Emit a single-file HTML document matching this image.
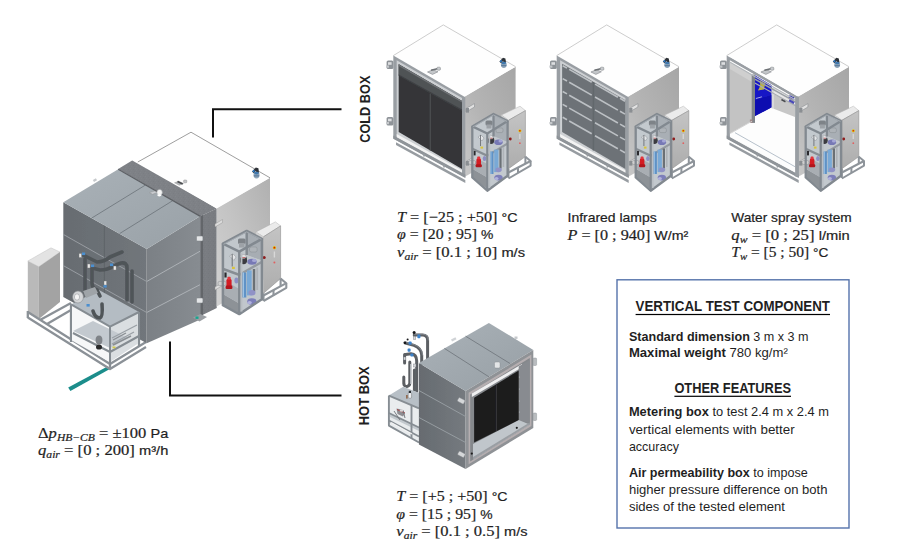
<!DOCTYPE html>
<html lang="en">
<head>
<meta charset="utf-8">
<title>Hot box / Cold box test facility</title>
<style>
  html, body { margin: 0; padding: 0; background: #ffffff; }
  body { width: 900px; height: 550px; overflow: hidden; font-family: "Liberation Sans", sans-serif; }
  svg { display: block; }
  .sans { font-family: "Liberation Sans", sans-serif; }
  .serif { font-family: "Liberation Serif", serif; }
  .it { font-family: "Liberation Serif", serif; font-style: italic; }
  .b { font-family: "Liberation Sans", sans-serif; font-weight: bold; }
  text { fill: #1f1f1f; }
</style>
</head>
<body>
<svg width="900" height="550" viewBox="0 0 900 550">
  <defs>
    <filter id="soft" x="-5%" y="-5%" width="110%" height="110%">
      <feGaussianBlur stdDeviation="0.55"/>
    </filter>
  </defs>
  <rect x="0" y="0" width="900" height="550" fill="#ffffff"/>

  <!-- ============ CONNECTOR LINES ============ -->
  <g id="connectors" fill="none" stroke="#111111" stroke-width="2" stroke-linejoin="miter">
    <polyline points="213,137.5 213,109.3 341.5,109.3"/>
    <polyline points="170,341.5 170,395.5 341.5,395.5"/>
  </g>

  <!-- ============ COLD BOX RENDERINGS ============ -->
  <defs>
    <linearGradient id="cbRight" x1="0" y1="1" x2="1" y2="0">
      <stop offset="0" stop-color="#c8c8c8"/>
      <stop offset="0.45" stop-color="#b4b4b4"/>
      <stop offset="1" stop-color="#a6a6a6"/>
    </linearGradient>
    <linearGradient id="cabFront" x1="0" y1="0" x2="0" y2="1">
      <stop offset="0" stop-color="#c4c4c4"/>
      <stop offset="1" stop-color="#adadad"/>
    </linearGradient>

    <!-- body of cold box: top face, right face, front frame (coords = box 1 absolute) -->
    <g id="cbBody">
      <!-- right face -->
      <polygon points="464.4,96.7 515.6,66.7 515.6,148 464.4,177" fill="url(#cbRight)"/>
      <!-- top face -->
      <polygon points="443.3,24.9 515.6,66.7 464.4,96.7 393.3,55.6" fill="#fefefe"/>
      <polyline points="393.3,55.6 443.3,24.9 515.6,66.7" fill="none" stroke="#b8b8b8" stroke-width="0.7"/>
      <!-- front frame outer -->
      <polygon points="393.3,55.6 465.3,97.2 465.3,177.5 393.3,138.5" fill="#999ea3"/>
      <polygon points="396.7,60.3 462,98 462,172 396.7,135.8" fill="#cdd0d3"/>
      <polygon points="396.7,134 462,170.2 462,173.6 396.7,137.6" fill="#f3f3f3"/>
      <polygon points="393.3,135.6 465.3,174.6 465.3,178 393.3,138.8" fill="#8f9499"/>
      <!-- base rails under front -->
      <polygon points="396,142.2 465.3,180 465.3,183 396,145" fill="#979ca1"/>
      <path d="M424,153.5 l0,3 M444,164.5 l0,3" stroke="#979ca1" stroke-width="1.6"/>
      <!-- hinges left -->
      <g>
        <rect x="386.6" y="60.5" width="6.8" height="8.6" rx="1.6" fill="#8e9398"/>
        <rect x="388" y="62.2" width="3.6" height="2.6" fill="#dcdee0"/>
        <rect x="386" y="65.5" width="3" height="2.2" fill="#c4c7ca"/>
        <rect x="386.6" y="117" width="6.8" height="8.6" rx="1.6" fill="#8e9398"/>
        <rect x="388" y="118.7" width="3.6" height="2.6" fill="#dcdee0"/>
        <rect x="386" y="122" width="3" height="2.2" fill="#c4c7ca"/>
      </g>
      <!-- bracket on right face -->
      <polygon points="466,108.5 474.5,103.6 474.5,107 466,112" fill="#e1e1e1" stroke="#7f8387" stroke-width="0.5"/>
      <rect x="466" y="108" width="3" height="4.6" fill="#8a8e92"/>
      <polygon points="466,161.5 474.5,156.6 474.5,160 466,165" fill="#e1e1e1" stroke="#7f8387" stroke-width="0.5"/>
      <rect x="466" y="161" width="3" height="4.6" fill="#8a8e92"/>
      <!-- handle on top -->
      <path d="M427.5,72 l5.5,-2.3 l5,2.1 l-5.5,2.6 z" fill="#c3c6c9" stroke="#83878b" stroke-width="0.6"/>
      <path d="M431,70.3 l6.3,-1.6" stroke="#6d7175" stroke-width="1.5" fill="none"/>
      <rect x="437" y="67.2" width="3.4" height="3" rx="0.8" fill="#c9cccf" stroke="#777b7f" stroke-width="0.5"/>
      <!-- blue sensor on top -->
      <ellipse cx="503.8" cy="64.6" rx="2.9" ry="3.4" fill="#8ea4b8"/>
      <rect x="501.2" y="65" width="5.2" height="1.2" fill="#5f7f9f"/>
      <path d="M499.4,61.6 l3.6,-3.8 l2.4,0.6 l0.6,4 l-2.4,0.4 l-0.4,-2 l-2.2,2.4 z" fill="#2f3338"/>
      <rect x="500" y="60.4" width="2" height="1.6" fill="#2d7fd0" transform="rotate(-45 501 61.2)"/>
      <ellipse cx="503.8" cy="63" rx="2.2" ry="1.2" fill="#3f79b0"/>
    </g>

    <!-- pump skid frame + control cabinet (coords = box 1 absolute) -->
    <g id="cbSkid">
      <!-- control cabinet -->
      <polygon points="501.4,115 520,106.2 525.4,110.6 508.5,120.3" fill="#ebebeb" stroke="#b5b5b5" stroke-width="0.5"/>
      <polygon points="508.5,120.3 525.4,110.6 525.4,156.6 508.5,168.7" fill="url(#cabFront)" stroke="#8f8f8f" stroke-width="0.6"/>
      <polygon points="501.4,115 508.5,120.3 508.5,168 501.4,163" fill="#d2d2d2"/>
      <circle cx="519.9" cy="130.8" r="1.5" fill="#e6c800"/>
      <circle cx="519.9" cy="130.8" r="0.8" fill="#cc1515"/>
      <circle cx="519.9" cy="143.2" r="0.9" fill="#e06060"/>
      <rect x="519.2" y="134" width="1.3" height="5" fill="#d8d8d8"/>
      <circle cx="510.3" cy="139" r="1.4" fill="#8e1a1a"/>
      <!-- cabinet base frame -->
      <g fill="none" stroke="#8e949a" stroke-width="2" stroke-linejoin="round">
        <path d="M508.5,168.7 L508.5,178 M525.4,156.6 L525.4,164"/>
        <path d="M508.5,172.5 L530.6,161 L525.4,156.8"/>
        <path d="M508.5,178.5 L530.6,165.6 L530.6,161"/>
        <path d="M518,167.6 L518,173"/>
      </g>
      <!-- skid interior backdrop -->
      <polygon points="472.3,126.4 493.5,114 507.6,121 507.6,175.8 487.3,190.7 472.3,177.5" fill="#c3c9ce"/>
      <polygon points="493.5,114 507.6,121 507.6,142 493.5,136" fill="#a9afb5"/>
      <!-- shelf -->
      <polygon points="472.3,147.6 493.5,136.5 507.6,142.3 487.3,154.6" fill="#c2c8cd"/>
      <polygon points="472.3,147.6 487.3,154.6 487.3,157 472.3,150" fill="#878d93"/>
      <polygon points="487.3,154.6 507.6,142.3 507.6,144.7 487.3,157" fill="#949aa0"/>
      <!-- equipment on top level -->
      <rect x="485.5" y="120.5" width="7" height="5" rx="1.5" fill="#7e8388"/>
      <rect x="486.5" y="124.5" width="5" height="4" fill="#9da2a7"/>
      <rect x="496" y="128" width="7" height="4.6" rx="1.6" fill="#aeb3b8" stroke="#7e8388" stroke-width="0.4"/>
      <path d="M478,137 l3,-2 l3,3 l-2,3 z" fill="#e4e6e8" stroke="#777b80" stroke-width="0.4"/>
      <path d="M480.5,135 L480.5,146" stroke="#6d7176" stroke-width="0.9"/>
      <ellipse cx="491" cy="140.2" rx="3.3" ry="3.8" fill="#3a3b3f"/>
      <ellipse cx="490.6" cy="137.2" rx="2.7" ry="1.9" fill="#e2e2e4" stroke="#8d8d90" stroke-width="0.4"/>
      <path d="M488.5,138.2 h4" stroke="#b33" stroke-width="0.6"/>
      <ellipse cx="498.5" cy="142.3" rx="4.2" ry="2.8" fill="#7779b5"/>
      <ellipse cx="500.5" cy="141" rx="2" ry="1.6" fill="#a5a7d6"/>
      <rect x="480.5" y="146.6" width="2.6" height="2" fill="#d9c43c"/>
      <!-- lower level -->
      <polygon points="472.3,168.7 487.3,177.5 487.3,189 472.3,177.5" fill="#8d9297"/>
      <polygon points="472.3,163.5 480,160 487.3,164 487.3,177.5 472.3,168.7" fill="#a9aeb3"/>
      <rect x="473.6" y="151" width="2" height="4.4" fill="#2a2b2e"/>
      <rect x="489.2" y="151.5" width="4.3" height="22.5" fill="#5f92c6"/>
      <rect x="494.2" y="149.6" width="4.3" height="22.5" fill="#79a9d6"/>
      <rect x="490.4" y="151.5" width="1" height="22.5" fill="#9cc3e6"/>
      <rect x="499.4" y="148.5" width="2.2" height="20" fill="#6b7075"/>
      <rect x="502.6" y="147" width="1.6" height="20" fill="#aeb3b8"/>
      <ellipse cx="498.5" cy="177.6" rx="4.2" ry="2.9" fill="#7d7fba"/>
      <ellipse cx="496.5" cy="178.6" rx="2" ry="1.5" fill="#b1b3dd"/>
      <ellipse cx="498.6" cy="169.8" rx="3.2" ry="2.4" fill="#9092c6"/>
      <ellipse cx="484.5" cy="158.5" rx="1.8" ry="2.6" fill="#8c8ec2"/>
      <rect x="476.4" y="158.3" width="4.6" height="8.6" rx="1.6" fill="#d41c24"/>
      <rect x="477.2" y="156.6" width="3" height="2.6" rx="0.8" fill="#e2353c"/>
      <rect x="475.6" y="164.3" width="6.2" height="3" rx="1" fill="#b0161d"/>
      <rect x="468.6" y="160.6" width="7" height="3.8" rx="1.4" fill="#d0d0d0" stroke="#85898d" stroke-width="0.5"/>
      <!-- frame posts -->
      <g fill="none" stroke="#828990" stroke-width="2.3" stroke-linejoin="round">
        <path d="M472.3,126.4 L472.3,177.5 L487.3,190.7 L507.6,175.8 L507.6,121"/>
        <path d="M487.3,133.5 L487.3,190.7"/>
        <path d="M472.3,126.4 L493.5,114 L507.6,121 L487.3,133.5 Z"/>
        <path d="M493.5,114 L493.5,136.5"/>
      </g>
      <path d="M489.4,134.5 L489.4,188" stroke="#b9bec3" stroke-width="1.6" fill="none"/>
      <path d="M472.8,127 L493.5,115 L507,121.4" fill="none" stroke="#b3b9be" stroke-width="0.7"/>
    </g>
  </defs>

  <g id="coldboxes" filter="url(#soft)">
    <!-- box 1: dark roller shutter -->
    <g>
      <use href="#cbBody"/>
      <polygon points="398.7,64.3 462,100.9 462,168.9 398.7,132" fill="#343538"/>
      <polygon points="398.7,64.3 462,100.9 462,110.5 398.7,75.3" fill="#4f5255"/>
      <polygon points="398.7,64.3 462,100.9 462,102.6 398.7,66" fill="#6f7376"/>
      <polygon points="398.7,74.4 462,109.6 462,111 398.7,75.8" fill="#3e4043"/>
      <line x1="430.3" y1="93.5" x2="430.3" y2="150.5" stroke="#4b4d50" stroke-width="1.3"/>
      <use href="#cbSkid"/>
    </g>
    <!-- box 2: infrared lamps -->
    <g transform="translate(163.4,0)">
      <use href="#cbBody"/>
      <polygon points="398.7,63.7 462,100.3 462,168.9 398.7,132" fill="#6d7277"/>
      <g stroke="#bcc0c4" stroke-width="1.6" fill="none">
        <path d="M399.3,65.7 L403.6,68.1 M405.8,69.4 L428.3,82.2 M431.6,84.1 L454.5,97.2 M456.6,98.3 L461.6,101.2"/>
        <path d="M399.3,78.6 L403.6,81.0 M405.8,82.3 L428.3,95.1 M431.6,97.0 L454.5,110.1 M456.6,111.2 L461.6,114.1"/>
        <path d="M399.3,91.5 L403.6,93.9 M405.8,95.2 L428.3,108.0 M431.6,109.9 L454.5,123.0 M456.6,124.1 L461.6,127.0"/>
        <path d="M399.3,104.4 L403.6,106.8 M405.8,108.1 L428.3,120.9 M431.6,122.8 L454.5,135.9 M456.6,137.1 L461.6,139.9"/>
        <path d="M399.3,117.3 L403.6,119.7 M405.8,121.0 L428.3,133.8 M431.6,135.7 L454.5,148.8 M456.6,149.9 L461.6,152.8"/>
      </g>
      <line x1="430" y1="82" x2="430" y2="150.5" stroke="#62676c" stroke-width="1.4"/>
      <use href="#cbSkid"/>
    </g>
    <!-- box 3: water spray (open front) -->
    <g transform="translate(333.4,0)">
      <use href="#cbBody"/>
      <!-- interior -->
      <polygon points="396.5,59.8 462,97.6 462,172.6 396.5,136.6" fill="#fdfdfd"/>
      <polygon points="396.5,62 418.6,74.7 418.6,121 396.5,133.5" fill="#c3c3c3"/>
      <polygon points="396.5,62 418.6,74.7 418.6,82 396.5,69" fill="#cfcfcf"/>
      <!-- blue curtain -->
      <polygon points="421.6,75.3 438.3,85.3 438.3,107.3 421.6,116" fill="#1616c6"/>
      <polygon points="421.6,100 438.3,95 438.3,107.3 421.6,116" fill="#1010b0"/>
      <path d="M422.5,98.5 L428.5,96.8" stroke="#c9c9e8" stroke-width="0.8" fill="none"/>
      <polygon points="426.5,80.8 431.8,83.4 430.5,89.5 424.5,90.5 426.8,86" fill="#b9b146"/>
      <!-- back wall -->
      <polygon points="440.3,94 461.6,104 461.6,117 440.3,108.7" fill="#c7c7c7"/>
      <polygon points="441,87.5 461.6,99 461.6,104 440.3,94" fill="#e7e7e7"/>
      <rect x="438.3" y="88" width="2.4" height="20.5" fill="#d9d9d9"/>
      <rect x="447.8" y="99.6" width="4.6" height="1.8" fill="#4a4c50" transform="rotate(27 450 100.5)"/>
      <!-- spray rails -->
      <path d="M419.6,78.2 L462.5,102.2" stroke="#9ca1a6" stroke-width="1.5" fill="none"/>
      <path d="M419.6,82 L462.5,106" stroke="#a9adb2" stroke-width="1.2" fill="none"/>
      <rect x="455.4" y="96" width="5.6" height="2.6" fill="#3d3db4" transform="rotate(28 458 97.3)"/>
      <rect x="455.4" y="100.4" width="5.6" height="2.2" fill="#4a4ab8" transform="rotate(28 458 101.5)"/>
      <!-- inner post -->
      <rect x="418.3" y="74.5" width="3.3" height="48.4" fill="#80858a"/>
      <rect x="416.5" y="119.5" width="2.6" height="3.4" fill="#a08888"/>
      <!-- floor edges -->
      <path d="M396.8,133.5 L418.6,121.2" stroke="#d0d0d0" stroke-width="0.9" fill="none"/>
      <path d="M401.6,132.7 L461.6,166.7" stroke="#b7c1cb" stroke-width="1" fill="none"/>
      <!-- frame top rail (thin) -->
      <polygon points="396.5,57.6 462,95.4 462,98 396.5,60.2" fill="#9a9fa4"/>
      <polygon points="396.5,61.4 462,99.2 462,100.6 396.5,62.8" fill="#b4b8bc"/>
      <!-- right front post -->
      <rect x="461.8" y="96.5" width="3.5" height="80" fill="#999ea3"/>
      <use href="#cbSkid"/>
    </g>
  </g>

  <!-- ============ HOT BOX RENDERING ============ -->
  <defs>
    <linearGradient id="hbTop" x1="0" y1="0" x2="1" y2="1">
      <stop offset="0" stop-color="#aab2b8"/>
      <stop offset="1" stop-color="#979fa5"/>
    </linearGradient>
    <linearGradient id="hbLeft" x1="0" y1="0" x2="1" y2="0">
      <stop offset="0" stop-color="#666b70"/>
      <stop offset="1" stop-color="#757a7f"/>
    </linearGradient>
  </defs>
  <g id="hotbox" filter="url(#soft)">
    <!-- piping behind / left -->
    <g fill="none" stroke="#5b5f64" stroke-width="3" stroke-linecap="round" stroke-linejoin="round">
      <path d="M414.2,334.9 L422.5,334.9 Q427.6,334.9 427.6,340 L427.6,360"/>
      <path d="M405.4,343 L414,345.4 Q421.7,348.5 421.7,355 L421.7,364"/>
      <path d="M405.6,354.6 L411,353.8 Q416.7,354.5 416.7,361 L416.7,400"/>
      <path d="M404.6,354.5 L404.6,363"/>
      <path d="M403.8,377 L403.8,383.4 Q404,386.6 407,386.4 Q409.8,386 409.8,383 L409.8,362"/>
      <path d="M414.4,370 L414.4,399"/>
    </g>
    <g fill="none" stroke="#8c9196" stroke-width="0.8" stroke-linecap="round">
      <path d="M414.6,334.2 L422.5,334.2 Q428.3,334.2 428.4,340"/>
      <path d="M406,342.3 L414.2,344.6 Q422.4,347.8 422.5,355"/>
    </g>
    <path d="M410.8,364 L410.8,384" stroke="#c9ccd0" stroke-width="1.1" fill="none"/>
    <g fill="#3b82cc">
      <rect x="417.4" y="334.6" width="3" height="3.6" rx="0.8"/>
      <rect x="408.6" y="341.4" width="3" height="3.4" rx="0.8"/>
      <rect x="407.6" y="348.6" width="3" height="3.2" rx="0.8"/>
      <rect x="410.4" y="353.4" width="3" height="3.2" rx="0.8"/>
    </g>
    <g fill="#17181a">
      <circle cx="414.1" cy="332.4" r="1.5"/>
      <circle cx="404.9" cy="342.8" r="1.4"/>
      <circle cx="407.6" cy="339.4" r="1"/>
    </g>
    <g fill="#d7d9dc" stroke="#777b80" stroke-width="0.4">
      <rect x="413.2" y="336.5" width="2.6" height="3"/>
      <rect x="403.6" y="357" width="2.2" height="3"/>
      <rect x="413.6" y="364" width="2.4" height="3"/>
    </g>
    <!-- left skid with light top -->
    <polygon points="388.9,395.6 403.3,386.7 419,393 419,443 388.9,425.6" fill="#e9ecee"/>
    <polygon points="388.9,395.6 403.3,386.7 419,393 419,408.3" fill="#b7bfc6"/>
    <polygon points="390,413.5 419,427 419,431 390,417" fill="#c3c9ce"/>
    <g fill="none" stroke="#868d93" stroke-width="1.9" stroke-linejoin="round">
      <path d="M388.9,395.6 L388.9,425.6 L419,442.5"/>
      <path d="M388.9,395.6 L419,408.3"/>
      <path d="M388.9,413 L419,427.5"/>
      <path d="M388.9,420.5 L419,436.5"/>
      <path d="M411.5,405.5 L411.5,438"/>
    </g>
    <path d="M391,422.5 L412,434" stroke="#f4f4f4" stroke-width="1.2" fill="none"/>
    <rect x="408.2" y="392.6" width="3.4" height="5.6" rx="1" fill="#eceef0" stroke="#6a6e72" stroke-width="0.5"/>
    <rect x="408.8" y="390.8" width="2.2" height="2.2" fill="#2c2d30"/>
    <rect x="406.2" y="395" width="1.4" height="3.6" fill="#8a5a3a"/>
    <path d="M396.5,408.5 l5,1 l3.5,3.5 l-2,3.5 l-5.5,-2.5 z" fill="#8d8d92"/>
    <path d="M397,409.5 l8,3.5" stroke="#b03030" stroke-width="0.8"/>
    <path d="M394,411 l6,9 M403,410 l2,8" stroke="#6d7176" stroke-width="0.9" fill="none"/>
    <ellipse cx="401.5" cy="410.5" rx="1.8" ry="1.3" fill="#d8d8da"/>
    <!-- main body -->
    <polygon points="418.9,362.9 465.6,391 465.6,469 418.9,444.4" fill="url(#hbLeft)"/>
    <polygon points="418.9,362.9 488.9,322.9 533.3,350 465.6,391" fill="url(#hbTop)"/>
    <!-- top seams -->
    <path d="M444.4,348.4 L488.9,376.8 M465.6,336.2 L510.2,363.6" stroke="#6d747a" stroke-width="0.8" fill="none"/>
    <!-- left face seams -->
    <path d="M418.9,390.5 L465.6,416.5 M418.9,417.5 L465.6,442.5" stroke="#9aa0a5" stroke-width="0.9" fill="none"/>
    <!-- front frame -->
    <polygon points="465.6,391 533.3,350 533.3,428 465.6,469" fill="#8f9296"/>
    <polygon points="468.6,392.8 531.4,354.6 531.4,426 468.6,464.2" fill="#b5aeb0"/>
    <polygon points="470.2,394.5 529.8,358 529.8,424.5 470.2,461.5" fill="#85888c"/>
    <!-- white seal strip on top inner edge -->
    <polygon points="471.8,393.6 522,364 522,367.2 471.8,397" fill="#efeff0"/>
    <!-- inner right jamb -->
    <polygon points="518.7,366.5 529.6,360 529.6,423 518.7,420.3" fill="#888b90"/>
    <!-- sill -->
    <polygon points="473,444 518.7,420 529.6,424.5 473,459.5" fill="#c0c6cb"/>
    <polygon points="473,457 529.6,422.5 529.6,424.5 473,459.5" fill="#9a9ea3"/>
    <!-- dark panel -->
    <polygon points="474.1,397.8 518.7,370.6 518.7,420.1 474.1,442.4" fill="#1d1d1e"/>
    <line x1="496.4" y1="384.5" x2="496.4" y2="431" stroke="#3c3c3e" stroke-width="0.9"/>
    <circle cx="471.8" cy="453.6" r="1.1" fill="#1d1d1e"/>
    <circle cx="516.8" cy="427.8" r="1.1" fill="#1d1d1e"/>
    <g fill="#b9bcc0">
      <circle cx="519.4" cy="377" r="0.5"/><circle cx="519.4" cy="389" r="0.5"/><circle cx="519.4" cy="401" r="0.5"/><circle cx="519.4" cy="412" r="0.5"/>
    </g>
    <!-- brackets -->
    <rect x="458" y="398.5" width="7" height="4.2" rx="1" fill="#d5d7d9" stroke="#82868a" stroke-width="0.4" transform="rotate(28 461 400)"/>
    <rect x="458" y="452" width="7" height="4.2" rx="1" fill="#d5d7d9" stroke="#82868a" stroke-width="0.4" transform="rotate(28 461 454)"/>
    <rect x="533" y="358" width="3.6" height="7.5" rx="1" fill="#b9bcbf" stroke="#82868a" stroke-width="0.4"/>
    <rect x="533" y="413" width="3.6" height="7.5" rx="1" fill="#b9bcbf" stroke="#82868a" stroke-width="0.4"/>
    <rect x="494.5" y="362" width="5.5" height="6" rx="1.2" fill="#e3e5e7" stroke="#82868a" stroke-width="0.4"/>
    <rect x="451" y="338.5" width="5" height="2.4" fill="#d0d3d6" transform="rotate(-28 453 339)"/>
    <rect x="514.5" y="336.5" width="3" height="2.4" fill="#c5c8cb"/>
  </g>

  <!-- ============ MAIN ASSEMBLY (HOT BOX + COLD BOX) ============ -->
  <defs>
    <linearGradient id="maTop" x1="0" y1="0" x2="1" y2="1">
      <stop offset="0" stop-color="#a9b1b7"/>
      <stop offset="1" stop-color="#99a1a7"/>
    </linearGradient>
    <linearGradient id="maLeft" x1="0" y1="0" x2="1" y2="0">
      <stop offset="0" stop-color="#676c71"/>
      <stop offset="1" stop-color="#71767b"/>
    </linearGradient>
    <linearGradient id="maRight" x1="0" y1="0" x2="1" y2="0">
      <stop offset="0" stop-color="#7b8085"/>
      <stop offset="1" stop-color="#878c91"/>
    </linearGradient>
    <linearGradient id="maCold" x1="0" y1="1" x2="1" y2="0">
      <stop offset="0" stop-color="#d2d2d2"/>
      <stop offset="0.5" stop-color="#c3c3c3"/>
      <stop offset="1" stop-color="#b0b0b0"/>
    </linearGradient>
    <pattern id="speck" width="5" height="4" patternUnits="userSpaceOnUse">
      <rect width="5" height="4" fill="#7d8084"/>
      <rect x="0" y="0" width="1" height="1" fill="#95989c"/>
      <rect x="3" y="1" width="1" height="1" fill="#66696d"/>
      <rect x="1" y="2" width="1" height="1" fill="#8d9094"/>
      <rect x="4" y="3" width="1" height="1" fill="#6e7175"/>
    </pattern>
  </defs>
  <g id="mainassembly" filter="url(#soft)">
    <!-- teal strip on floor -->
    <polygon points="68.2,387.6 107.4,366.4 109.4,369.2 70.4,391" fill="#1a8d8b"/>

    <!-- left electrical cabinet -->
    <polygon points="27.8,261 51,247.8 60,252 38.9,266.7" fill="#e3e3e3" stroke="#bcbcbc" stroke-width="0.4"/>
    <polygon points="27.8,261 38.9,266.7 38.9,319 27.8,313" fill="#b9b9b9"/>
    <polygon points="38.9,266.7 60,252 60,302 38.9,319" fill="#a3a3a3"/>

    <!-- left base frame -->
    <g fill="none" stroke="#8b9197" stroke-width="2.3" stroke-linejoin="round">
      <path d="M27.8,312 L110,364 L146,342"/>
      <path d="M27.8,317.5 L110,369 L146,347"/>
      <path d="M27.8,311 L27.8,318 M110,326.7 L110,369"/>
      <path d="M40,320 L71,303"/>
      <path d="M47,324 L71,310"/>
      <path d="M71,304 L71,342"/>
      <path d="M139,313 L139,346"/>
    </g>

    <!-- hot box: left face -->
    <polygon points="63.3,202.2 146.7,249 146.7,343.3 63.3,297" fill="url(#maLeft)"/>
    <path d="M63.3,234.4 L146.7,281.5 M63.3,265.6 L146.7,312.5" stroke="#9da2a7" stroke-width="0.9" fill="none"/>
    <line x1="104.4" y1="225.5" x2="104.4" y2="320" stroke="#5c6166" stroke-width="0.8"/>
    <!-- hot box: right face -->
    <polygon points="146.7,249 200.4,216 200.4,319.5 146.7,343.3" fill="url(#maRight)"/>
    <path d="M146.7,281.5 L200.4,251 M146.7,312.5 L200.4,284.5" stroke="#b1b6ba" stroke-width="0.9" fill="none"/>
    <!-- hot box: top -->
    <polygon points="63.3,202.2 118.2,169.3 200.4,216 146.7,249" fill="url(#maTop)"/>
    <path d="M91.8,218 L145.5,185 M119.6,233.6 L172.8,200.6" stroke="#6b7278" stroke-width="0.8" fill="none"/>

    <!-- specimen frame band -->
    <polygon points="118.2,169 132.2,160.4 216.7,208.4 200.4,216.2" fill="#7e8186"/>
    <polygon points="118.2,169 132.2,160.4 216.7,208.4 200.4,216.2" fill="url(#speck)" opacity="0.18"/>
    <path d="M118.2,169.2 L200.4,216.4" stroke="#5d6065" stroke-width="1.3" fill="none"/>
    <polygon points="200.4,216.2 216.7,208.4 216.7,308 200.4,316" fill="#787b80"/>
    <polygon points="200.4,216.2 216.7,208.4 216.7,308 200.4,316" fill="url(#speck)" opacity="0.15"/>
    <polygon points="200.4,216.2 203,214.9 203,314.7 200.4,316" fill="#63666b"/>
    <polygon points="193,317.5 200.4,314 207,317 199.5,321.5" fill="#9a9ea2"/>
    <rect x="195.5" y="316.5" width="3" height="2.4" fill="#17a58f"/>

    <!-- cold box: right face + top -->
    <polygon points="216.7,208 270,177.8 270,276 216.7,306.5" fill="url(#maCold)"/>
    <polygon points="191,132.2 270,177.8 216.7,208.4 137.8,162" fill="#fefefe"/>
    <polyline points="137.8,162 191,132.2 270,177.8" fill="none" stroke="#858585" stroke-width="0.8"/>
    <!-- top details -->
    <path d="M149.5,192.6 l5,-1.6 l3,1.4 l-5,1.9 z" fill="#c9ccd0" stroke="#8d8d8d" stroke-width="0.4"/>
    <ellipse cx="159.6" cy="192.4" rx="2.7" ry="3" fill="#f4f4f4" stroke="#a5a8ab" stroke-width="0.6"/>
    <ellipse cx="159.3" cy="195.3" rx="2" ry="1.1" fill="#ffffff"/>
    <path d="M174.5,182.8 l4,-1.6 l5,2.2 l-4.2,1.9 z" fill="#b1b4b7" stroke="#8a8a8a" stroke-width="0.4"/>
    <path d="M177.5,181.6 l5.2,2.4" stroke="#4a4c4f" stroke-width="1.6" fill="none"/>
    <rect x="183.6" y="180" width="3.2" height="2.8" rx="0.8" fill="#c4c6c9" stroke="#7d7d7d" stroke-width="0.4"/>
    <ellipse cx="256.5" cy="174.8" rx="3" ry="3.6" fill="#8ea4b8"/>
    <rect x="253.8" y="175.2" width="5.4" height="1.3" fill="#5f7f9f"/>
    <path d="M252,171.6 l3.8,-4 l2.6,0.6 l0.6,4.2 l-2.6,0.4 l-0.4,-2 l-2.3,2.5 z" fill="#2f3338"/>
    <rect x="252.6" y="170.3" width="2.1" height="1.7" fill="#2d7fd0" transform="rotate(-45 253.6 171.1)"/>
    <ellipse cx="256.5" cy="173.1" rx="2.3" ry="1.3" fill="#3f79b0"/>
    <rect x="93" y="179.5" width="3.5" height="2.2" fill="#c6c9cc" transform="rotate(-30 94 180)"/>
    <!-- brackets on band / cold box -->
    <rect x="196.5" y="236" width="6.4" height="5" rx="1" fill="#e4e6e8" stroke="#7c8084" stroke-width="0.5"/>
    <rect x="196.5" y="298" width="6.4" height="5" rx="1" fill="#e4e6e8" stroke="#7c8084" stroke-width="0.5"/>
    <polygon points="215,224 222.5,219.5 222.5,222.6 215,227" fill="#dcdcdc" stroke="#8c8c8c" stroke-width="0.4"/>
    <polygon points="215,287 222.5,282.5 222.5,285.6 215,290" fill="#dcdcdc" stroke="#8c8c8c" stroke-width="0.4"/>

    <!-- right control cabinet -->
    <polygon points="256,231.9 275.4,221.9 280.6,225.9 263.5,236.8" fill="#ebebeb" stroke="#b5b5b5" stroke-width="0.5"/>
    <polygon points="263.5,236.8 280.6,225.9 280.6,278.4 263.5,293.3" fill="url(#cabFront)" stroke="#8f8f8f" stroke-width="0.6"/>
    <polygon points="256,231.9 263.5,236.8 263.5,292.5 256,287.5" fill="#d2d2d2"/>
    <circle cx="274.4" cy="247.7" r="1.6" fill="#e6c800"/>
    <circle cx="274.4" cy="247.7" r="0.9" fill="#cc1515"/>
    <rect x="273.7" y="251.5" width="1.4" height="6" fill="#d8d8d8"/>
    <circle cx="274.4" cy="262.6" r="1" fill="#e06060"/>
    <circle cx="264.2" cy="257.6" r="1.5" fill="#8e1a1a"/>
    <g fill="none" stroke="#8e949a" stroke-width="2.1" stroke-linejoin="round">
      <path d="M263.5,293.3 L263.5,301 M280.6,278.4 L280.6,286"/>
      <path d="M263.5,295.5 L286.3,283.2 L280.6,278.6"/>
      <path d="M263.5,301 L286.3,287.8 L286.3,283.2"/>
      <path d="M273.5,290 L273.5,295.5"/>
    </g>

    <!-- right pump skid -->
    <polygon points="222.9,243.7 246.7,230.9 261.9,238.8 261.9,299.3 239.3,314.1 222.9,305.2" fill="#c1c7cc"/>
    <polygon points="246.7,230.9 261.9,238.8 261.9,260.6 246.7,255" fill="#a7adb3"/>
    <polygon points="222.9,267.5 246.7,255 261.9,260.6 239.3,273.5" fill="#c2c8cd"/>
    <polygon points="222.9,267.5 239.3,273.5 239.3,276.2 222.9,270.2" fill="#878d93"/>
    <polygon points="239.3,273.5 261.9,260.6 261.9,263.3 239.3,276.2" fill="#949aa0"/>
    <rect x="238" y="238.5" width="7.6" height="5.6" rx="1.6" fill="#7e8388"/>
    <rect x="239" y="243" width="5.6" height="4.6" fill="#9da2a7"/>
    <rect x="249.5" y="247" width="7.6" height="5" rx="1.7" fill="#aeb3b8" stroke="#7e8388" stroke-width="0.4"/>
    <path d="M229.5,256 l3.4,-2.2 l3.2,3.2 l-2.2,3.4 z" fill="#e4e6e8" stroke="#777b80" stroke-width="0.4"/>
    <path d="M232.2,254 L232.2,266.5" stroke="#6d7176" stroke-width="1"/>
    <ellipse cx="243.5" cy="260" rx="3.6" ry="4.3" fill="#3a3b3f"/>
    <ellipse cx="243.1" cy="256.5" rx="3" ry="2.1" fill="#e2e2e4" stroke="#8d8d90" stroke-width="0.4"/>
    <path d="M240.8,257.6 h4.6" stroke="#b33" stroke-width="0.7"/>
    <ellipse cx="252" cy="261.8" rx="4.7" ry="3" fill="#7779b5"/>
    <ellipse cx="254.2" cy="260.4" rx="2.2" ry="1.7" fill="#a5a7d6"/>
    <rect x="232" y="266.8" width="2.8" height="2.2" fill="#d9c43c"/>
    <polygon points="222.9,294 239.3,303.5 239.3,313 222.9,304.5" fill="#8d9297"/>
    <polygon points="222.9,288.5 231.5,284.5 239.3,289 239.3,303.5 222.9,294" fill="#a9aeb3"/>
    <rect x="224.4" y="272.5" width="2.2" height="5" fill="#2a2b2e"/>
    <rect x="241.6" y="272.5" width="4.7" height="25" fill="#5f92c6"/>
    <rect x="247" y="270.4" width="4.7" height="25" fill="#79a9d6"/>
    <rect x="242.9" y="272.5" width="1.1" height="25" fill="#9cc3e6"/>
    <rect x="252.8" y="269" width="2.4" height="22.5" fill="#6b7075"/>
    <rect x="256.3" y="267.5" width="1.8" height="22.5" fill="#aeb3b8"/>
    <ellipse cx="251.8" cy="301.5" rx="4.6" ry="3.2" fill="#7d7fba"/>
    <ellipse cx="249.6" cy="302.6" rx="2.2" ry="1.6" fill="#b1b3dd"/>
    <ellipse cx="252" cy="292.8" rx="3.5" ry="2.7" fill="#9092c6"/>
    <ellipse cx="236.4" cy="280.5" rx="2" ry="2.9" fill="#8c8ec2"/>
    <rect x="226.4" y="278.8" width="5.2" height="9.8" rx="1.8" fill="#d41c24"/>
    <rect x="227.4" y="276.8" width="3.3" height="3" rx="0.9" fill="#e2353c"/>
    <rect x="225.6" y="285.6" width="6.8" height="3.4" rx="1.1" fill="#b0161d"/>
    <rect x="218" y="281.4" width="8" height="4.2" rx="1.5" fill="#d0d0d0" stroke="#85898d" stroke-width="0.5"/>
    <g fill="none" stroke="#828990" stroke-width="2.5" stroke-linejoin="round">
      <path d="M222.9,243.7 L222.9,305.2 L239.3,314.1 L261.9,299.3 L261.9,238.8"/>
      <path d="M239.3,251.7 L239.3,314.1"/>
      <path d="M222.9,243.7 L246.7,230.9 L261.9,238.8 L239.3,251.7 Z"/>
      <path d="M246.7,230.9 L246.7,255"/>
    </g>
    <path d="M241.6,252.8 L241.6,311.5" stroke="#b9bec3" stroke-width="1.7" fill="none"/>
    <path d="M223.5,244.3 L246.7,231.9 L261.3,239.2" fill="none" stroke="#b3b9be" stroke-width="0.7"/>

    <!-- platform in front of hot box (left skid) -->
    <polygon points="110,326.7 139,312 139,343 110,362" fill="#dadee1"/>
    <polygon points="71,304.4 110,326.7 110,362 71,340" fill="#f6f7f8"/>
    <polygon points="71,304.4 99,290 139,312 110,326.7" fill="#b4bcc3"/>
    <polygon points="73,331 93,321 128,338 110,348" fill="#c3c9cf"/>
    <path d="M112,338 L137,325 M112,344 L134,332" stroke="#9aa0a6" stroke-width="1.3" fill="none"/>
    <g fill="none" stroke="#858c92" stroke-width="2" stroke-linejoin="round">
      <path d="M71,304.4 L110,326.7 L139,312"/>
      <path d="M73,333 L110,352 L139,336"/>
      <path d="M110,326.7 L110,366 M71,304.4 L71,342 M139,312 L139,346"/>
    </g>
    <!-- pipes on left face -->
    <g fill="none" stroke="#505459" stroke-width="3.6" stroke-linecap="round" stroke-linejoin="round">
      <path d="M85,259 L85,292"/>
      <path d="M83,255 L97,262 Q104,262 110,257 L122,252"/>
      <path d="M92,268 L100,270 Q108,270 113,266 L121,263 Q127,262 127,268 L127,300"/>
      <path d="M132,271 L132,302"/>
      <path d="M92,268 L92,283 Q92,288 97,290 L100,296"/>
      <path d="M93,311 Q95,318 100,318 Q103,317 102,304"/>
    </g>
    <ellipse cx="78" cy="297" rx="5.4" ry="6" fill="#d4d6d8" stroke="#8b8e92" stroke-width="0.6"/>
    <ellipse cx="77" cy="297" rx="2.6" ry="3.2" fill="#f4f4f4" stroke="#8b8e92" stroke-width="0.5"/>
    <polygon points="83,291 95,287 98,293 86,298" fill="#9fa4a8"/>
    <g fill="#4b8fd0">
      <rect x="82" y="252.5" width="3.2" height="2.6"/>
      <rect x="91" y="264.5" width="3.2" height="2.6"/>
      <rect x="110" y="263.5" width="3.2" height="2.6"/>
      <rect x="103.5" y="285" width="3.2" height="2.6"/>
      <rect x="86.5" y="304" width="3.2" height="2.6"/>
    </g>
    <g fill="#e9e9e9" stroke="#777" stroke-width="0.4">
      <rect x="79" y="253.5" width="2.6" height="4"/>
      <rect x="87.5" y="264" width="2.6" height="4"/>
      <rect x="113.5" y="266" width="2.6" height="4"/>
      <rect x="104" y="281" width="2.6" height="4"/>
    </g>
    <!-- pump under platform -->
    <ellipse cx="99" cy="340" rx="3.4" ry="4.6" fill="#7f8388"/>
    <ellipse cx="99" cy="347" rx="3" ry="2.6" fill="#2a2a2c"/>
    <path d="M113,345 L131,336 M113,340 L126,333" stroke="#8a8f94" stroke-width="1.4" fill="none"/>
    <rect x="112.5" y="346.5" width="3" height="1.8" fill="#d2c94c"/>
  </g>

  <!-- ============ ROTATED LABELS ============ -->
  <g id="labels">
    <text class="b" font-size="14.6" transform="translate(369.6,142.8) rotate(-90)" textLength="67.2" lengthAdjust="spacingAndGlyphs" fill="#000">COLD BOX</text>
    <text class="b" font-size="14.6" transform="translate(369,425.2) rotate(-90)" textLength="58.8" lengthAdjust="spacingAndGlyphs" fill="#000">HOT BOX</text>
  </g>

  <!-- ============ FORMULA TEXT ============ -->
  <g id="formulas" font-size="15" stroke="#1f1f1f" stroke-width="0.22">
    <!-- cold box 1 -->
    <text x="397" y="221.7" textLength="120.5" lengthAdjust="spacingAndGlyphs"><tspan class="it">T</tspan><tspan class="serif"> = [−25 ; +50] </tspan><tspan class="sans" font-size="13.2">°C</tspan></text>
    <text x="397" y="238.7" textLength="96.3" lengthAdjust="spacingAndGlyphs"><tspan class="it">φ</tspan><tspan class="serif"> = [20 ; 95] </tspan><tspan class="sans" font-size="13.2">%</tspan></text>
    <text x="397" y="256.7" textLength="128" lengthAdjust="spacingAndGlyphs"><tspan class="it">v</tspan><tspan class="it" font-size="10.5" dy="3">air</tspan><tspan class="serif" dy="-3"> = [0.1 ; 10] </tspan><tspan class="sans" font-size="13.2">m/s</tspan></text>
    <!-- cold box 2 -->
    <text class="sans" font-size="13.2" x="567.5" y="221.7" textLength="89.2" lengthAdjust="spacingAndGlyphs">Infrared lamps</text>
    <text x="567.5" y="239.7" textLength="120.8" lengthAdjust="spacingAndGlyphs"><tspan class="it">P</tspan><tspan class="serif"> = [0 ; 940] </tspan><tspan class="sans" font-size="13.2">W/m²</tspan></text>
    <!-- cold box 3 -->
    <text class="sans" font-size="13.2" x="731.3" y="221.7" textLength="120.4" lengthAdjust="spacingAndGlyphs">Water spray system</text>
    <text x="731.3" y="239.7" textLength="118.4" lengthAdjust="spacingAndGlyphs"><tspan class="it">q</tspan><tspan class="it" font-size="10.5" dy="3">w</tspan><tspan class="serif" dy="-3"> = [0 ; 25] </tspan><tspan class="sans" font-size="13.2">l/min</tspan></text>
    <text x="731.3" y="256.7" textLength="97" lengthAdjust="spacingAndGlyphs"><tspan class="it">T</tspan><tspan class="it" font-size="10.5" dy="3">w</tspan><tspan class="serif" dy="-3"> = [5 ; 50] </tspan><tspan class="sans" font-size="13.2">°C</tspan></text>
    <!-- main assembly -->
    <text x="38" y="437.5" textLength="130.3" lengthAdjust="spacingAndGlyphs"><tspan class="serif">Δ</tspan><tspan class="it">p</tspan><tspan class="it" font-size="10.5" dy="3">HB−CB</tspan><tspan class="serif" dy="-3"> =  ±100 </tspan><tspan class="sans" font-size="13.2">Pa</tspan></text>
    <text x="38" y="455" textLength="130.3" lengthAdjust="spacingAndGlyphs"><tspan class="it">q</tspan><tspan class="it" font-size="10.5" dy="3">air</tspan><tspan class="serif" dy="-3"> = [0 ; 200] </tspan><tspan class="sans" font-size="13.2">m³/h</tspan></text>
    <!-- hot box -->
    <text x="396.3" y="501.3" textLength="111.2" lengthAdjust="spacingAndGlyphs"><tspan class="it">T</tspan><tspan class="serif"> = [+5 ; +50] </tspan><tspan class="sans" font-size="13.2">°C</tspan></text>
    <text x="396.3" y="518.7" textLength="96.2" lengthAdjust="spacingAndGlyphs"><tspan class="it">φ</tspan><tspan class="serif"> = [15 ; 95] </tspan><tspan class="sans" font-size="13.2">%</tspan></text>
    <text x="396.3" y="536.3" textLength="131.2" lengthAdjust="spacingAndGlyphs"><tspan class="it">v</tspan><tspan class="it" font-size="10.5" dy="3">air</tspan><tspan class="serif" dy="-3"> = [0.1 ; 0.5] </tspan><tspan class="sans" font-size="13.2">m/s</tspan></text>
  </g>

  <!-- ============ INFO BOX ============ -->
  <g id="infobox">
    <rect x="617" y="279.8" width="232" height="248.2" fill="#ffffff" stroke="#5573ab" stroke-width="1.4"/>
    <text class="b" font-size="14.2" x="635.6" y="311.4" textLength="194.4" lengthAdjust="spacingAndGlyphs" fill="#000">VERTICAL TEST COMPONENT</text>
    <rect x="635.6" y="313.9" width="194.4" height="1.2" fill="#000"/>
    <text font-size="13" x="628.9" y="340.6" textLength="179.7" lengthAdjust="spacingAndGlyphs"><tspan class="b">Standard dimension</tspan><tspan class="sans">  3 m x 3 m</tspan></text>
    <text font-size="13" x="628.9" y="357.3" textLength="158.9" lengthAdjust="spacingAndGlyphs"><tspan class="b">Maximal weight</tspan><tspan class="sans">  780 kg/m²</tspan></text>
    <text class="b" font-size="14.2" x="674.4" y="393.4" textLength="116.6" lengthAdjust="spacingAndGlyphs" fill="#000">OTHER FEATURES</text>
    <rect x="674.4" y="395.7" width="116.6" height="1.2" fill="#000"/>
    <text font-size="13" x="628.9" y="416.4" textLength="200" lengthAdjust="spacingAndGlyphs"><tspan class="b">Metering box</tspan><tspan class="sans"> to test 2.4 m x 2.4 m</tspan></text>
    <text class="sans" font-size="13" x="628.9" y="433.6" textLength="165.8" lengthAdjust="spacingAndGlyphs">vertical elements with better</text>
    <text class="sans" font-size="13" x="628.9" y="450.6" textLength="50" lengthAdjust="spacingAndGlyphs">accuracy</text>
    <text font-size="13" x="628.9" y="476.7" textLength="178.9" lengthAdjust="spacingAndGlyphs"><tspan class="b">Air permeability box</tspan><tspan class="sans"> to impose</tspan></text>
    <text class="sans" font-size="13" x="628.9" y="493.6" textLength="198.6" lengthAdjust="spacingAndGlyphs">higher pressure difference on both</text>
    <text class="sans" font-size="13" x="628.9" y="510.8" textLength="156.1" lengthAdjust="spacingAndGlyphs">sides of the tested element</text>
  </g>

</svg>
</body>
</html>
